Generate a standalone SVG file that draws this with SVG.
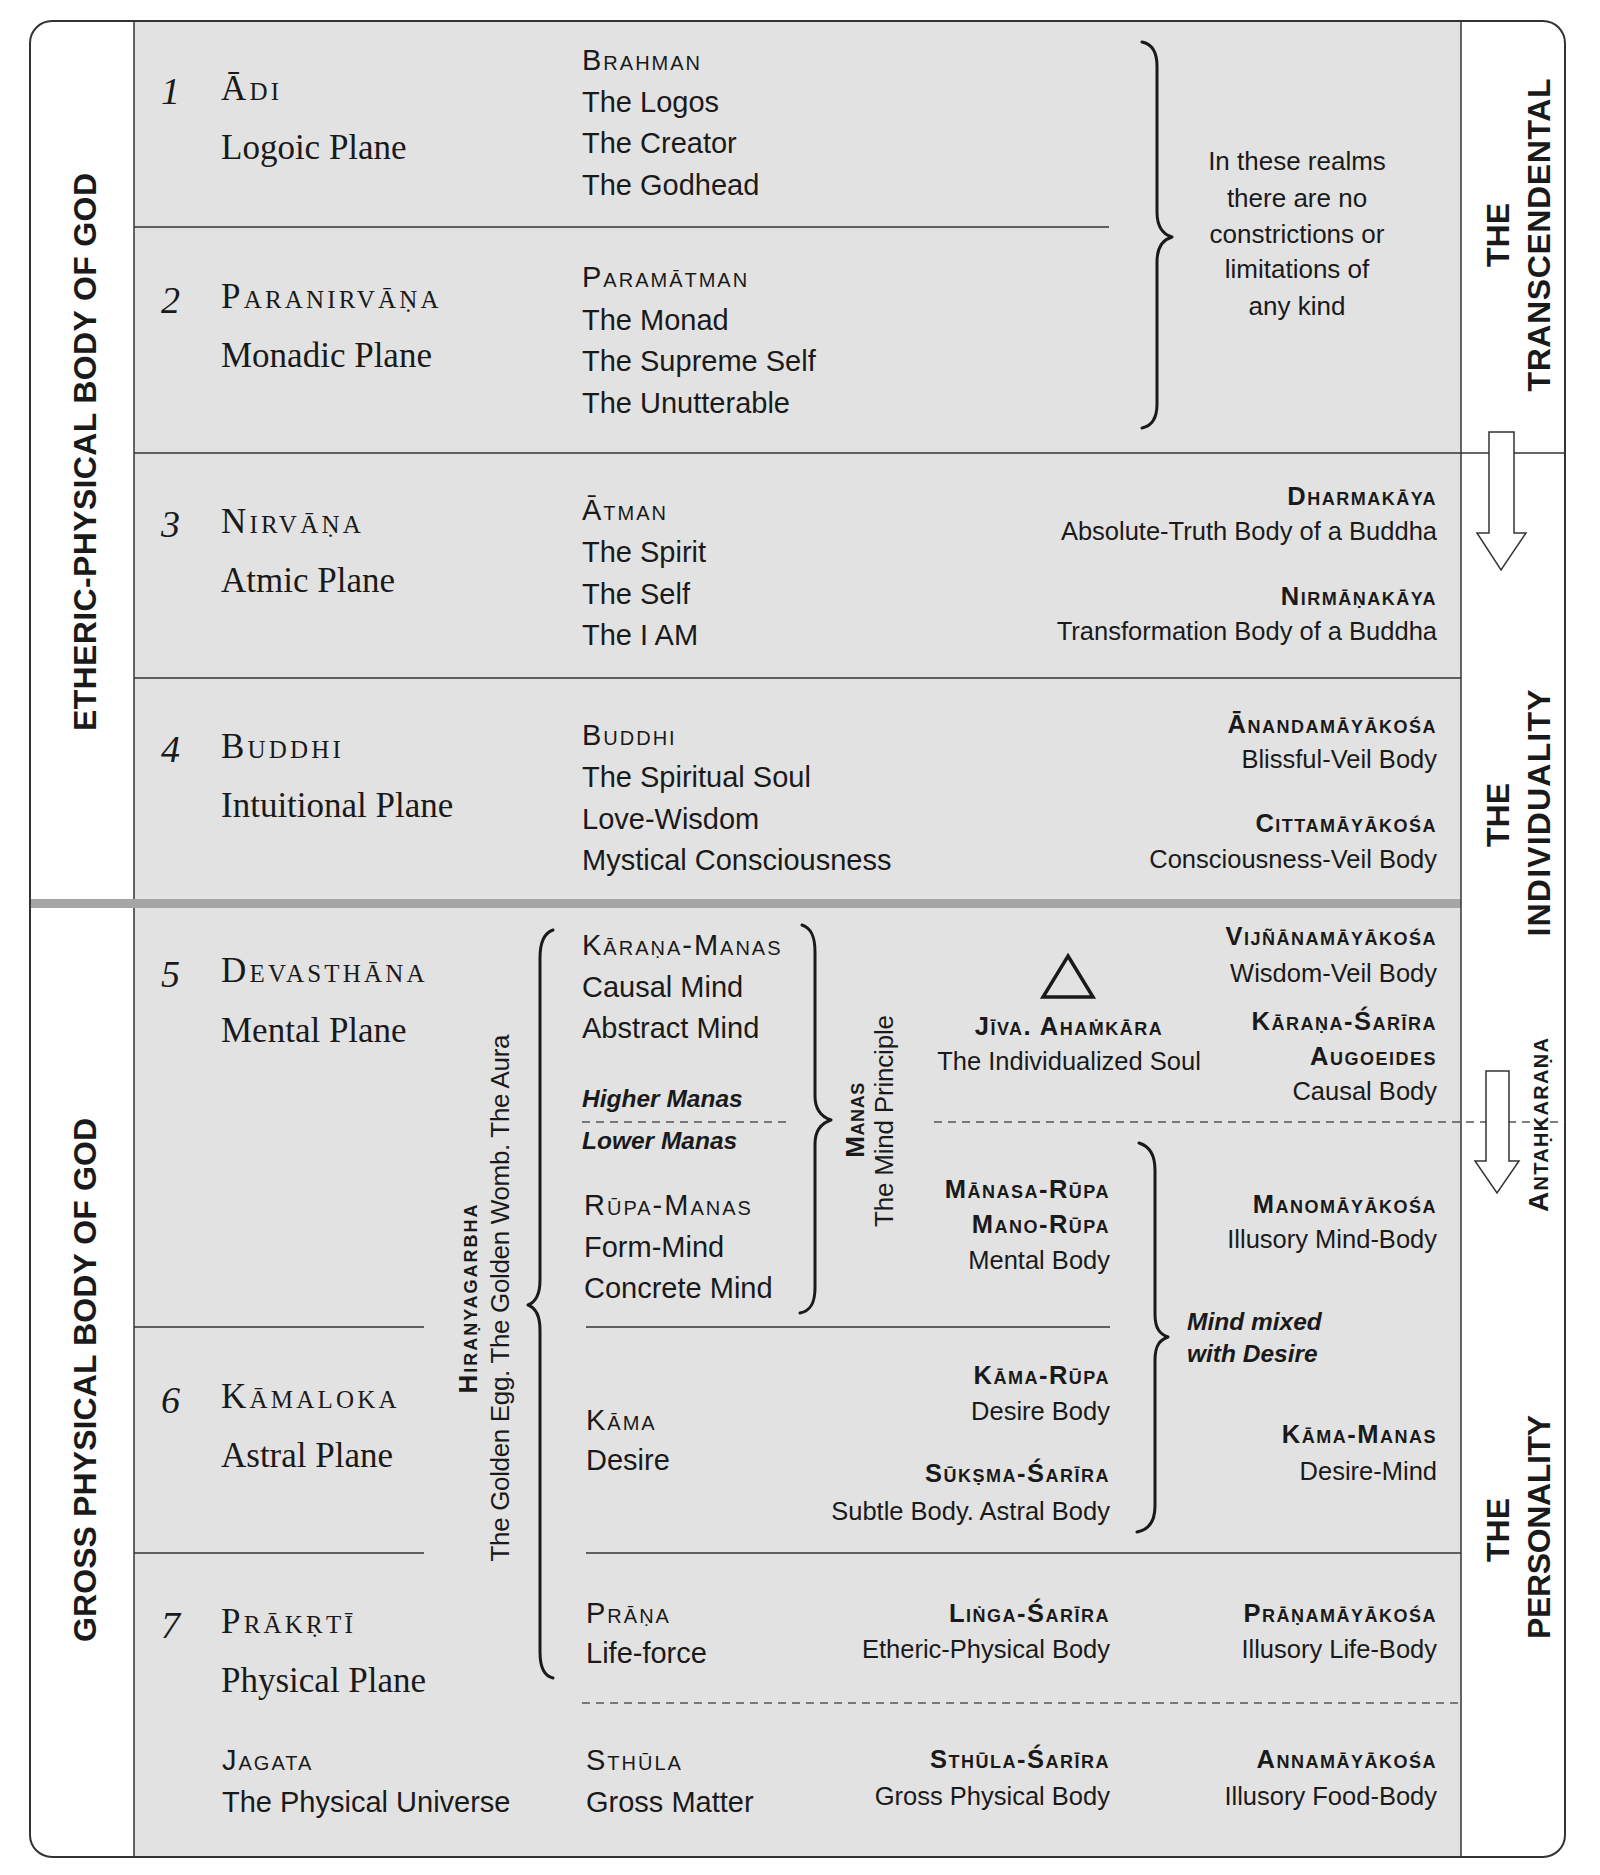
<svg xmlns="http://www.w3.org/2000/svg" width="1600" height="1875" viewBox="0 0 1600 1875">
<style>
.sf{font-family:"Liberation Serif","Times New Roman",serif;fill:#1a1a1a}
.pn{font-size:35px}
.ssc{font-variant:small-caps;letter-spacing:3.2px}
.num{font-style:italic;font-size:38px}
.ss{font-family:"Liberation Sans",Arial,sans-serif;fill:#1a1a1a}
.m{font-size:29px}
.msc{font-variant:small-caps;letter-spacing:2px}
.r{font-size:25.5px;text-anchor:end}
.c{font-size:25.5px;text-anchor:middle}
.bsc{font-variant:small-caps;font-weight:bold;letter-spacing:1.5px}
.it{font-style:italic;font-weight:bold;font-size:24.5px}
.vl{font-size:32px;font-weight:bold;text-anchor:middle}
.vm{font-size:26px;text-anchor:middle}
.ln{stroke:#333;stroke-width:1.5;fill:none}
.dl{stroke:#555;stroke-width:1.3;stroke-dasharray:8 6;fill:none}
.br{stroke:#1a1a1a;stroke-width:3;fill:none;stroke-linecap:round;stroke-linejoin:round}
.ar{fill:#fff;stroke:#333;stroke-width:1.5}
</style>
<rect width="1600" height="1875" fill="#fff"/>
<g id="frame">
<rect x="134" y="21" width="1327" height="1836" fill="#e2e2e2"/>
<rect x="30" y="899" width="1431" height="9" fill="#a5a5a5"/>
<line class="ln" x1="134" y1="21" x2="134" y2="899"/>
<line class="ln" x1="134" y1="908" x2="134" y2="1857"/>
<line class="ln" x1="1461" y1="21" x2="1461" y2="1857"/>
<rect x="30" y="21" width="1535" height="1836" rx="22" ry="22" fill="none" stroke="#333" stroke-width="2"/>
</g>
<g id="connectors">
<line class="ln" x1="134" y1="227" x2="1109" y2="227"/>
<line class="ln" x1="134" y1="453" x2="1565" y2="453"/>
<line class="ln" x1="134" y1="678" x2="1461" y2="678"/>
<line class="ln" x1="134" y1="1327" x2="424" y2="1327"/>
<line class="ln" x1="586" y1="1327" x2="1110" y2="1327"/>
<line class="ln" x1="134" y1="1553" x2="424" y2="1553"/>
<line class="ln" x1="586" y1="1553" x2="1461" y2="1553"/>
<line class="dl" x1="582" y1="1122" x2="787" y2="1122"/>
<line class="dl" x1="934" y1="1122" x2="1565" y2="1122"/>
<line class="dl" x1="582" y1="1703" x2="1461" y2="1703"/>
<path class="br" d="M1142,42 C1152,44 1157,52 1157,66 L1157,212 C1157,226 1162,234 1172,237 C1162,240 1157,248 1157,262 L1157,404 C1157,418 1152,426 1142,428"/>
<path class="br" d="M553,930 C544,933 540,942 540,958 L540,1280 C540,1295 536,1302 528,1305 C536,1308 540,1315 540,1330 L540,1652 C540,1668 544,1676 553,1678"/>
<path class="br" d="M802,925 C811,928 815,936 815,952 L815,1096 C815,1111 822,1117 831,1120 C822,1123 815,1129 815,1144 L815,1288 C815,1304 810,1311 800,1313"/>
<path class="br" d="M1139,1143 C1149,1146 1155,1154 1155,1170 L1155,1314 C1155,1329 1160,1334 1168,1337 C1160,1340 1155,1345 1155,1360 L1155,1506 C1155,1522 1148,1530 1137,1532"/>
<polygon class="ar" points="1489,432 1514,432 1514,533 1526,533 1501,570 1477,533 1489,533"/>
<polygon class="ar" points="1486,1071 1509,1071 1509,1161 1519,1161 1497,1193 1475,1161 1486,1161"/>
<polygon points="1068,956 1093,997 1043,997" fill="none" stroke="#1a1a1a" stroke-width="3.5" stroke-linejoin="miter"/>
</g>
<g id="side-labels">
<text class="ss vl" transform="translate(96,452) rotate(-90)" textLength="558" lengthAdjust="spacing">ETHERIC-PHYSICAL BODY OF GOD</text>
<text class="ss vl" transform="translate(96,1380) rotate(-90)" textLength="524" lengthAdjust="spacing">GROSS PHYSICAL BODY OF GOD</text>
<text class="ss vl" transform="translate(1509,235) rotate(-90)">THE</text>
<text class="ss vl" transform="translate(1550,235) rotate(-90)" textLength="313" lengthAdjust="spacing">TRANSCENDENTAL</text>
<text class="ss vl" transform="translate(1509,815) rotate(-90)">THE</text>
<text class="ss vl" transform="translate(1550,813) rotate(-90)" textLength="247" lengthAdjust="spacing">INDIVIDUALITY</text>
<text class="ss vl" transform="translate(1509,1530) rotate(-90)">THE</text>
<text class="ss vl" transform="translate(1550,1527) rotate(-90)" textLength="224" lengthAdjust="spacing">PERSONALITY</text>
<text class="ss" font-size="28" font-weight="bold" font-variant="small-caps" text-anchor="middle" transform="translate(1548,1125) rotate(-90)" textLength="174" lengthAdjust="spacing">Antaḥkaraṇa</text>
</g>
<g id="plane-1">
<text class="sf num" x="161" y="104">1</text>
<text class="sf pn ssc" x="221" y="100">Ādi</text>
<text class="sf pn" x="221" y="159">Logoic Plane</text>
<text class="ss m msc" x="582" y="70">Brahman</text>
<text class="ss m" x="582" y="112">The Logos</text>
<text class="ss m" x="582" y="153">The Creator</text>
<text class="ss m" x="582" y="195">The Godhead</text>
</g>
<g id="plane-2">
<text class="sf num" x="161" y="313">2</text>
<text class="sf pn ssc" x="221" y="308">Paranirvāṇa</text>
<text class="sf pn" x="221" y="367">Monadic Plane</text>
<text class="ss m msc" x="582" y="287">Paramātman</text>
<text class="ss m" x="582" y="330">The Monad</text>
<text class="ss m" x="582" y="371">The Supreme Self</text>
<text class="ss m" x="582" y="413">The Unutterable</text>
</g>
<g id="transcendent-note">
<text class="ss" font-size="26" text-anchor="middle" x="1297" y="170">In these realms</text>
<text class="ss" font-size="26" text-anchor="middle" x="1297" y="207">there are no</text>
<text class="ss" font-size="26" text-anchor="middle" x="1297" y="243">constrictions or</text>
<text class="ss" font-size="26" text-anchor="middle" x="1297" y="278">limitations of</text>
<text class="ss" font-size="26" text-anchor="middle" x="1297" y="315">any kind</text>
</g>
<g id="plane-3">
<text class="sf num" x="161" y="537">3</text>
<text class="sf pn ssc" x="221" y="533">Nirvāṇa</text>
<text class="sf pn" x="221" y="592">Atmic Plane</text>
<text class="ss m msc" x="582" y="520">Ātman</text>
<text class="ss m" x="582" y="562">The Spirit</text>
<text class="ss m" x="582" y="604">The Self</text>
<text class="ss m" x="582" y="645">The I AM</text>
<text class="ss r bsc" x="1437" y="505">Dharmakāya</text>
<text class="ss r" x="1437" y="540">Absolute-Truth Body of a Buddha</text>
<text class="ss r bsc" x="1437" y="605">Nirmāṇakāya</text>
<text class="ss r" x="1437" y="640">Transformation Body of a Buddha</text>
</g>
<g id="plane-4">
<text class="sf num" x="161" y="762">4</text>
<text class="sf pn ssc" x="221" y="758">Buddhi</text>
<text class="sf pn" x="221" y="817">Intuitional Plane</text>
<text class="ss m msc" x="582" y="745">Buddhi</text>
<text class="ss m" x="582" y="787">The Spiritual Soul</text>
<text class="ss m" x="582" y="829">Love-Wisdom</text>
<text class="ss m" x="582" y="870">Mystical Consciousness</text>
<text class="ss r bsc" x="1437" y="733">Ānandamāyākośa</text>
<text class="ss r" x="1437" y="768">Blissful-Veil Body</text>
<text class="ss r bsc" x="1437" y="832">Cittamāyākośa</text>
<text class="ss r" x="1437" y="868">Consciousness-Veil Body</text>
</g>
<g id="hiranyagarbha">
<text class="ss vm" font-weight="bold" font-variant="small-caps" letter-spacing="2" transform="translate(477,1298) rotate(-90)">Hiraṇyagarbha</text>
<text class="ss vm" transform="translate(509,1298) rotate(-90)" textLength="527" lengthAdjust="spacing">The Golden Egg. The Golden Womb. The Aura</text>
</g>
<g id="manas">
<text class="ss vm" font-weight="bold" font-variant="small-caps" letter-spacing="0.6" transform="translate(864,1120) rotate(-90)">Manas</text>
<text class="ss vm" font-size="25.5" transform="translate(893,1121) rotate(-90)" textLength="212" lengthAdjust="spacing">The Mind Principle</text>
</g>
<g id="plane-5">
<text class="sf num" x="161" y="987">5</text>
<text class="sf pn ssc" x="221" y="982">Devasthāna</text>
<text class="sf pn" x="221" y="1042">Mental Plane</text>
<text class="ss m msc" x="582" y="955">Kāraṇa-Manas</text>
<text class="ss m" x="582" y="997">Causal Mind</text>
<text class="ss m" x="582" y="1038">Abstract Mind</text>
<text class="ss it" x="582" y="1107">Higher Manas</text>
<text class="ss it" x="582" y="1149">Lower Manas</text>
<text class="ss m msc" x="584" y="1215">Rūpa-Manas</text>
<text class="ss m" x="584" y="1257">Form-Mind</text>
<text class="ss m" x="584" y="1298">Concrete Mind</text>
<text class="ss c bsc" x="1069" y="1035">Jīva. Ahaṁkāra</text>
<text class="ss c" x="1069" y="1070">The Individualized Soul</text>
<text class="ss r bsc" x="1437" y="945">Vijñānamāyākośa</text>
<text class="ss r" x="1437" y="982">Wisdom-Veil Body</text>
<text class="ss r bsc" x="1437" y="1030">Kāraṇa-Śarīra</text>
<text class="ss r bsc" x="1437" y="1065">Augoeides</text>
<text class="ss r" x="1437" y="1100">Causal Body</text>
<text class="ss r bsc" x="1110" y="1198">Mānasa-Rūpa</text>
<text class="ss r bsc" x="1110" y="1233">Mano-Rūpa</text>
<text class="ss r" x="1110" y="1269">Mental Body</text>
<text class="ss r bsc" x="1437" y="1213">Manomāyākośa</text>
<text class="ss r" x="1437" y="1248">Illusory Mind-Body</text>
<text class="ss it" x="1187" y="1330">Mind mixed</text>
<text class="ss it" x="1187" y="1362">with Desire</text>
</g>
<g id="plane-6">
<text class="sf num" x="161" y="1413">6</text>
<text class="sf pn ssc" x="221" y="1408">Kāmaloka</text>
<text class="sf pn" x="221" y="1467">Astral Plane</text>
<text class="ss m msc" x="586" y="1430">Kāma</text>
<text class="ss m" x="586" y="1470">Desire</text>
<text class="ss r bsc" x="1110" y="1384">Kāma-Rūpa</text>
<text class="ss r" x="1110" y="1420">Desire Body</text>
<text class="ss r bsc" x="1110" y="1482">Sūkṣma-Śarīra</text>
<text class="ss r" x="1110" y="1520">Subtle Body. Astral Body</text>
<text class="ss r bsc" x="1437" y="1443">Kāma-Manas</text>
<text class="ss r" x="1437" y="1480">Desire-Mind</text>
</g>
<g id="plane-7">
<text class="sf num" x="161" y="1638">7</text>
<text class="sf pn ssc" x="221" y="1633">Prākṛtī</text>
<text class="sf pn" x="221" y="1692">Physical Plane</text>
<text class="ss m msc" x="586" y="1623">Prāṇa</text>
<text class="ss m" x="586" y="1663">Life-force</text>
<text class="ss r bsc" x="1110" y="1622">Liṅga-Śarīra</text>
<text class="ss r" x="1110" y="1658">Etheric-Physical Body</text>
<text class="ss r bsc" x="1437" y="1622">Prāṇamāyākośa</text>
<text class="ss r" x="1437" y="1658">Illusory Life-Body</text>
</g>
<g id="physical-universe">
<text class="ss m msc" x="222" y="1770">Jagata</text>
<text class="ss m" x="222" y="1812">The Physical Universe</text>
<text class="ss m msc" x="586" y="1770">Sthūla</text>
<text class="ss m" x="586" y="1812">Gross Matter</text>
<text class="ss r bsc" x="1110" y="1768">Sthūla-Śarīra</text>
<text class="ss r" x="1110" y="1805">Gross Physical Body</text>
<text class="ss r bsc" x="1437" y="1768">Annamāyākośa</text>
<text class="ss r" x="1437" y="1805">Illusory Food-Body</text>
</g>
</svg>
